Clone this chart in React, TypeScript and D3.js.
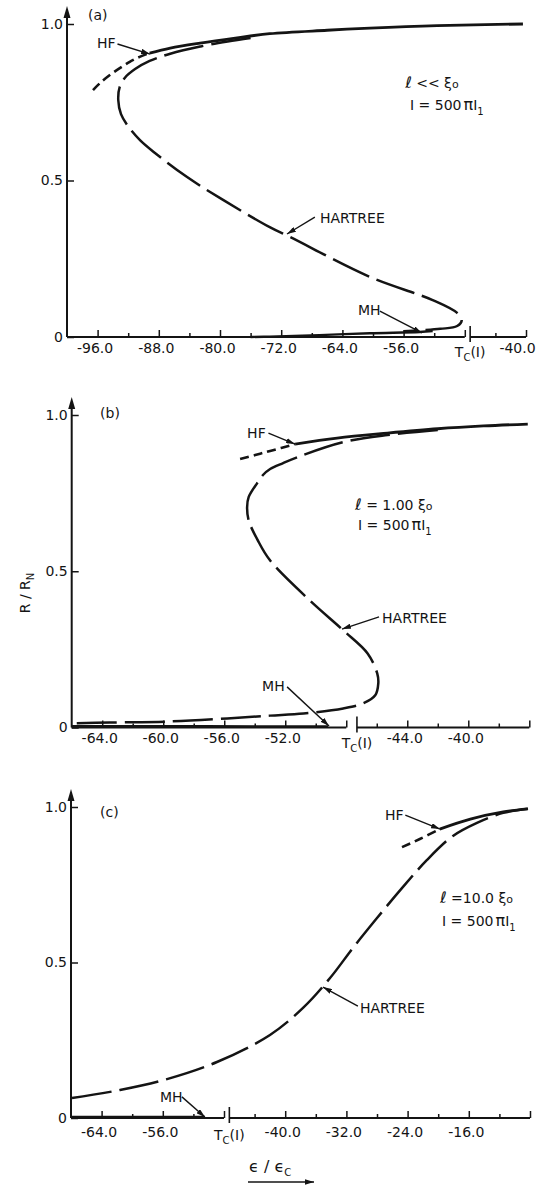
import React, { useEffect, useRef } from "react";
import * as d3 from "d3";

type Pt = [number, number];

const INK = "#141414";
const FONT = "DejaVu Sans, sans-serif";
const TC = -47.3; // position of the Tc(I) break on the temperature axis

// ---- panel (a): l << xi0 ----
const hfDashA: Pt[] = [[-96.6, 0.789], [-95.7, 0.811], [-94.4, 0.837], [-93.1, 0.859], [-91.8, 0.879], [-90.5, 0.895], [-89.2, 0.907]];
const hfSolidA: Pt[] = [[-89.2, 0.907], [-86.5, 0.923], [-82.6, 0.939], [-78, 0.955], [-73.5, 0.969], [-66, 0.98], [-60.4, 0.987], [-51.6, 0.995], [-40.4, 1.0]];
const hartreeA: Pt[] = [[-76, 0.955], [-79, 0.944], [-82.6, 0.928], [-86.5, 0.905], [-89.2, 0.882], [-91.1, 0.856], [-92.4, 0.829], [-93.1, 0.8], [-93.3, 0.757], [-92.94, 0.712], [-92.03, 0.674], [-90.46, 0.629], [-88.5, 0.588], [-84.3, 0.511], [-79.6, 0.438], [-73.5, 0.351], [-70.8, 0.319], [-60.4, 0.192], [-52.2, 0.118], [-49.0, 0.077], [-48.4, 0.054], [-49.0, 0.035], [-51.2, 0.026], [-56.0, 0.018]];
const mhA: Pt[] = [[-76, 0.0], [-73.5, 0.001], [-67, 0.006], [-60.4, 0.012], [-53.9, 0.016], [-52.2, 0.019]];
const majorA = [-96, -88, -80, -72, -64, -56, -48, -40];
const minorA = [-92, -84, -76, -68, -60, -52, -44];
const labeledA = [-96, -88, -80, -72, -64, -56, -40];

// ---- panel (b): l = 1.00 xi0 ----
const hfDashB: Pt[] = [[-54.96, 0.859], [-53.97, 0.872], [-52.99, 0.885], [-51.35, 0.907]];
const hfSolidB: Pt[] = [[-51.35, 0.907], [-48.6, 0.926], [-45.3, 0.942], [-42.0, 0.956], [-39, 0.965], [-36.1, 0.971]];
const hartreeB: Pt[] = [[-42.0, 0.952], [-45.3, 0.936], [-48.2, 0.913], [-51.2, 0.865], [-52.14, 0.846], [-52.99, 0.827], [-53.46, 0.808], [-53.84, 0.782], [-54.4, 0.737], [-54.5, 0.705], [-54.4, 0.663], [-53.8, 0.599], [-53.0, 0.535], [-50.4, 0.407], [-48.2, 0.311], [-46.6, 0.237], [-45.97, 0.173], [-45.9, 0.141], [-46.1, 0.103], [-46.9, 0.077], [-48.2, 0.061], [-50.8, 0.045], [-53.0, 0.038], [-55.8, 0.029], [-59.75, 0.019], [-63.5, 0.016], [-66, 0.013]];
const mhB: Pt[] = [[-66, 0.004], [-58, 0.004], [-52, 0.003], [-49.2, 0.003]];
const majorB = [-64, -60, -56, -52, -48, -44, -40, -36];
const minorB = [-62, -58, -54, -50, -46, -42, -38];
const labeledB = [-64, -60, -56, -52, -44, -40];

// ---- panel (c): l = 10.0 xi0 ----
const hfDashC: Pt[] = [[-24.73, 0.871], [-22.4, 0.897], [-19.8, 0.929]];
const hfSolidC: Pt[] = [[-19.8, 0.929], [-15.8, 0.961], [-11.5, 0.984], [-8.3, 0.994]];
const hartreeC: Pt[] = [[-67.87, 0.064], [-61.59, 0.09], [-55.45, 0.125], [-48.92, 0.18], [-41.99, 0.267], [-37.67, 0.354], [-34.14, 0.45], [-31.14, 0.547], [-28.0, 0.643], [-24.6, 0.743], [-21.46, 0.83], [-18.07, 0.907], [-14.93, 0.949], [-11.5, 0.981], [-8.26, 0.994]];
const mhC: Pt[] = [[-68, 0.003], [-60, 0.003], [-50.5, 0.003]];
const majorC = [-64, -56, -48, -40, -32, -24, -16, -8];
const minorC = [-60, -52, -44, -36, -28, -20, -12];
const labeledC = [-64, -56, -40, -32, -24, -16];

const yTicks = [0, 0.5, 1.0];
const lengthLabels = ["ℓ << ξ", "ℓ = 1.00 ξ", "ℓ =10.0 ξ"];

const panels = [
  {
    tag: "(a)", xDomain: [-100, -40], xRange: [67, 526], yRange: [337, 24], pad: 6, tcDy: 20,
    major: majorA, minor: minorA, labeled: labeledA,
    hfDash: hfDashA, hfSolid: hfSolidA, hartree: hartreeA, mh: mhA,
    tagAt: [-97.25, 1.013], hfAt: [-96.08, 0.923], hfArrow: [[-93.4, 0.936], [-89.15, 0.904]],
    hartreeAt: [-66.93, 0.364], hartreeArrow: [[-67.6, 0.383], [-71.24, 0.329]],
    mhAt: [-61.96, 0.07], mhArrow: [[-59.1, 0.083], [-53.6, 0.013]],
    paramsAt: [[-55.8, 0.796], [-55.16, 0.725]], length: lengthLabels[0],
  },
  {
    tag: "(b)", xDomain: [-66, -36], xRange: [71.7, 529.3], yRange: [727.5, 415], pad: 6, tcDy: 20,
    major: majorB, minor: minorB, labeled: labeledB,
    hfDash: hfDashB, hfSolid: hfSolidB, hartree: hartreeB, mh: mhB,
    tagAt: [-64.14, 0.99], hfAt: [-54.5, 0.926], hfArrow: [[-53.1, 0.942], [-51.36, 0.907]],
    hartreeAt: [-45.65, 0.334], hartreeArrow: [[-45.85, 0.354], [-48.28, 0.315]],
    mhAt: [-53.52, 0.117], mhArrow: [[-51.88, 0.13], [-49.13, 0.005]],
    paramsAt: [[-47.42, 0.696], [-47.23, 0.632]], length: lengthLabels[1],
  },
  {
    tag: "(c)", xDomain: [-68, -8], xRange: [71, 530], yRange: [1118, 807], pad: 9, tcDy: 22,
    major: majorC, minor: minorC, labeled: labeledC,
    hfDash: hfDashC, hfSolid: hfSolidC, hartree: hartreeC, mh: mhC,
    tagAt: [-64.2, 0.968], hfAt: [-26.95, 0.958], hfArrow: [[-24.3, 0.974], [-19.76, 0.929]],
    hartreeAt: [-30.22, 0.338], hartreeArrow: [[-30.5, 0.36], [-35.06, 0.421]],
    mhAt: [-56.37, 0.051], mhArrow: [[-53.5, 0.068], [-50.5, 0.003]],
    paramsAt: [[-19.76, 0.691], [-19.5, 0.617]], length: lengthLabels[2],
  },
];

function drawPanel(svg: any, p: any) {
  const x = d3.scaleLinear().domain(p.xDomain).range(p.xRange);
  const y = d3.scaleLinear().domain([0, 1]).range(p.yRange);
  const g = svg.append("g");
  const x0 = x(p.xDomain[0]);
  const y0 = y(0);

  // x axis with a break just before Tc(I)
  [[p.xDomain[0], -48], [TC, p.xDomain[1]]].forEach(([a, b]) => {
    g.append("line").attr("x1", x(a)).attr("x2", x(b)).attr("y1", y0).attr("y2", y0)
      .attr("stroke", INK).attr("stroke-width", 2);
  });
  const ax = g.append("g").attr("transform", `translate(0,${y0})`)
    .call(d3.axisBottom(x).tickValues(p.major).tickSize(-7).tickPadding(p.pad)
      .tickFormat((d: any) => (p.labeled.includes(d) ? d.toFixed(1) : "")));
  ax.select(".domain").remove();
  ax.selectAll("line").attr("stroke", INK).attr("stroke-width", 1.5);
  ax.selectAll("text").attr("font-family", FONT).attr("font-size", 14).attr("fill", INK)
    .attr("dx", (d: any) => (d === p.xDomain[1] ? -9 : -3));
  const axm = g.append("g").attr("transform", `translate(0,${y0})`)
    .call(d3.axisBottom(x).tickValues(p.minor).tickSize(-4).tickFormat(() => ""));
  axm.select(".domain").remove();
  axm.selectAll("line").attr("stroke", INK).attr("stroke-width", 1.5);

  // Tc(I) mark
  g.append("line").attr("x1", x(TC)).attr("x2", x(TC)).attr("y1", y0 - 11).attr("y2", y0 + 5)
    .attr("stroke", INK).attr("stroke-width", 1.6);
  const tc = g.append("text").attr("x", x(TC)).attr("y", y0 + p.tcDy).attr("text-anchor", "middle")
    .attr("font-family", FONT).attr("font-size", 14).attr("fill", INK);
  tc.append("tspan").text("T");
  tc.append("tspan").attr("font-size", 10).attr("dy", 4).text("C");
  tc.append("tspan").attr("dy", -4).text("(I)");

  // y axis with arrow
  g.append("line").attr("x1", x0).attr("x2", x0).attr("y1", y0).attr("y2", y(1) - 10)
    .attr("stroke", INK).attr("stroke-width", 2);
  g.append("path").attr("d", `M${x0},${y(1) - 18}L${x0 - 3.5},${y(1) - 6}L${x0 + 3.5},${y(1) - 6}Z`).attr("fill", INK);
  const ay = g.append("g").attr("transform", `translate(${x0},0)`)
    .call(d3.axisLeft(y).tickValues(yTicks).tickSize(-7).tickPadding(4)
      .tickFormat((d: any) => (d === 0 ? "0" : d.toFixed(1))));
  ay.select(".domain").remove();
  ay.selectAll("line").attr("stroke", INK).attr("stroke-width", 1.5);
  ay.selectAll("text").attr("font-family", FONT).attr("font-size", 14).attr("fill", INK);

  // curves
  const line = d3.line<Pt>().x((d) => x(d[0])).y((d) => y(d[1])).curve(d3.curveCatmullRom.alpha(0.5));
  const curve = (data: Pt[], w: number, dash: string | null) => {
    const path = g.append("path").attr("d", line(data)).attr("fill", "none").attr("stroke", INK)
      .attr("stroke-width", w).attr("stroke-linecap", "butt");
    if (dash) path.attr("stroke-dasharray", dash);
  };
  curve(p.mh, 2.4, null);
  curve(p.hartree, 2.5, "40 8");
  curve(p.hfDash, 2.6, "9 5");
  curve(p.hfSolid, 2.8, null);

  // annotations
  const label = (at: number[], txt: string) =>
    g.append("text").attr("x", x(at[0])).attr("y", y(at[1])).attr("font-family", FONT)
      .attr("font-size", 14).attr("fill", INK).text(txt);
  const arrow = (seg: number[][]) =>
    g.append("line").attr("x1", x(seg[0][0])).attr("y1", y(seg[0][1]))
      .attr("x2", x(seg[1][0])).attr("y2", y(seg[1][1]))
      .attr("stroke", INK).attr("stroke-width", 1.4).attr("marker-end", "url(#head)");
  label(p.tagAt, p.tag);
  label(p.hfAt, "HF");
  arrow(p.hfArrow);
  label(p.hartreeAt, "HARTREE");
  arrow(p.hartreeArrow);
  label(p.mhAt, "MH");
  arrow(p.mhArrow);

  const l1 = label(p.paramsAt[0], "");
  l1.append("tspan").attr("font-style", "italic").attr("font-size", 16).text(p.length.slice(0, 1));
  l1.append("tspan").text(p.length.slice(1));
  l1.append("tspan").attr("font-size", 11).text("o");
  const l2 = label(p.paramsAt[1], "I = 500");
  l2.append("tspan").attr("font-size", 16).attr("dx", 2).text("π");
  l2.append("tspan").text("I");
  l2.append("tspan").attr("font-size", 10).attr("dy", 5).text("1");
}

export default function App() {
  const ref = useRef<SVGSVGElement>(null);
  useEffect(() => {
    const svg = d3.select(ref.current);
    svg.selectAll("*").remove();

    svg.append("defs").append("marker").attr("id", "head").attr("viewBox", "0 0 10 6")
      .attr("refX", 10).attr("refY", 3).attr("markerWidth", 9).attr("markerHeight", 5.4)
      .attr("markerUnits", "userSpaceOnUse").attr("orient", "auto")
      .append("path").attr("d", "M0,0L10,3L0,6Z").attr("fill", INK);

    panels.forEach((p) => drawPanel(svg, p));

    // y axis title
    const yl = svg.append("text").attr("transform", "translate(30,593) rotate(-90)")
      .attr("text-anchor", "middle").attr("font-family", FONT).attr("font-size", 14).attr("fill", INK);
    yl.append("tspan").text("R / R");
    yl.append("tspan").attr("font-size", 10).attr("dy", 4).text("N");

    // x axis title with arrow
    const xl = svg.append("text").attr("x", 249).attr("y", 1172)
      .attr("font-family", FONT).attr("font-size", 16).attr("fill", INK);
    xl.append("tspan").text("ϵ / ϵ");
    xl.append("tspan").attr("font-size", 10).attr("dy", 4).text("C");
    svg.append("line").attr("x1", 248).attr("x2", 314).attr("y1", 1182).attr("y2", 1182)
      .attr("stroke", INK).attr("stroke-width", 1.6).attr("marker-end", "url(#head)");
  }, []);

  return (
    <svg ref={ref} width={542} height={1188}
      style={{ position: "absolute", left: 0, top: 0, background: "#fff" }} />
  );
}
